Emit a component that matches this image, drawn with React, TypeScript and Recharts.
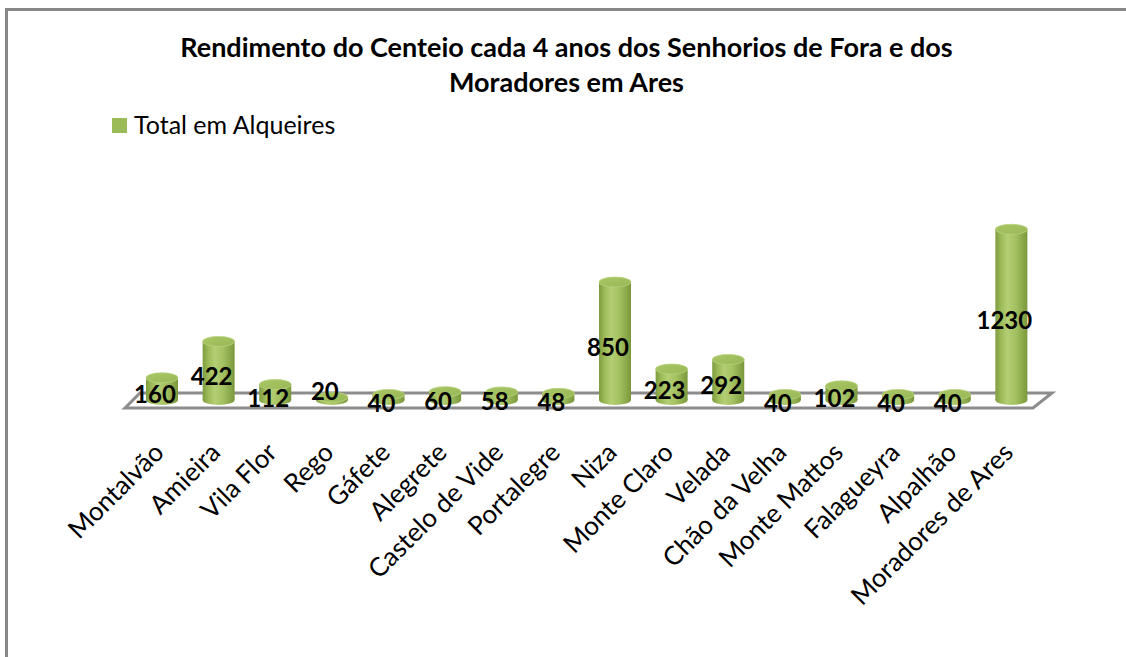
import { BarChart, Bar, XAxis, YAxis, LabelList } from 'recharts'

const CATEGORIES = [
  'Montalvão', 'Amieira', 'Vila Flor', 'Rego', 'Gáfete', 'Alegrete', 'Castelo de Vide', 'Portalegre',
  'Niza', 'Monte Claro', 'Velada', 'Chão da Velha', 'Monte Mattos', 'Falagueyra', 'Alpalhão', 'Moradores de Ares',
]
const VALUES = [160, 422, 112, 20, 40, 60, 58, 48, 850, 223, 292, 40, 102, 40, 40, 1230]
const SERIES_NAME = 'Total em Alqueires'
const TITLE_LINES = ['Rendimento do Centeio cada 4 anos dos Senhorios de Fora e dos', 'Moradores em Ares']

const data = CATEGORIES.map((name, i) => ({ name, value: VALUES[i] }))

const FONT = 'Lato, "Open Sans", sans-serif'
const GREEN = '#9bbb59'

function Cylinder(props: any) {
  const { x, y, width, height } = props
  const cx = x + width / 2
  const rx = width / 2
  const ry = 5
  const bottom = y + height
  return (
    <g>
      <ellipse cx={cx} cy={bottom} rx={rx} ry={ry} fill="url(#cylSide)" />
      <rect x={x} y={y} width={width} height={Math.max(height, 0)} fill="url(#cylSide)" />
      <ellipse cx={cx} cy={y} rx={rx} ry={ry} fill="url(#cylTop)" stroke="#b9d27f" strokeWidth={0.8} />
    </g>
  )
}

function ValueLabel(props: any) {
  const { x, y, width, height, value } = props
  // very flat bars get their label lifted a bit, as in the original
  const dy = height < 5 ? -8 : 5
  return (
    <text
      x={x + width / 2 - 7}
      y={y + height / 2 + dy}
      textAnchor="middle"
      dominantBaseline="central"
      fontFamily={FONT}
      fontWeight={700}
      fontSize={24}
      fill="#000"
    >
      {value}
    </text>
  )
}

function CategoryTick(props: any) {
  const { x, y, payload } = props
  const ax = x + 3
  const ay = y + 54
  return (
    <text
      x={ax}
      y={ay}
      transform={`rotate(-45, ${ax}, ${ay})`}
      textAnchor="end"
      fontFamily={FONT}
      fontSize={26}
      fill="#000"
    >
      {payload.value}
    </text>
  )
}

export default function App() {
  return (
    <div style={{ position: 'absolute', left: 0, top: 0, width: 1126, height: 657, overflow: 'hidden', background: '#fff' }}>
      {/* chart frame, cut by the picture on the right and bottom */}
      <div style={{ position: 'absolute', left: 5, top: 8, width: 1200, height: 760, border: '3px solid #878787' }} />

      {/* 3D floor */}
      <svg width={1126} height={657} style={{ position: 'absolute', left: 0, top: 0 }}>
        <polygon
          points="125,408 140,393 1052,393 1033,408"
          fill="#fff"
          stroke="#8c8c8c"
          strokeWidth={3}
          strokeLinejoin="miter"
        />
      </svg>

      <div style={{ position: 'absolute', left: 0, top: 0 }}>
        <BarChart
          width={1126}
          height={657}
          data={data}
          margin={{ top: 178, right: 86, bottom: 197, left: 134 }}
          barCategoryGap={0}
        >
          <defs>
            <linearGradient id="cylSide" x1="0" y1="0" x2="1" y2="0">
              <stop offset="0%" stopColor="#7f9c3f" />
              <stop offset="18%" stopColor="#9dbb58" />
              <stop offset="38%" stopColor="#b4ce74" />
              <stop offset="65%" stopColor="#a3c060" />
              <stop offset="100%" stopColor="#7a973b" />
            </linearGradient>
            <linearGradient id="cylTop" x1="0" y1="0" x2="1" y2="1">
              <stop offset="0%" stopColor="#aac766" />
              <stop offset="100%" stopColor="#98b755" />
            </linearGradient>
          </defs>
          <XAxis
            dataKey="name"
            interval={0}
            axisLine={false}
            tickLine={false}
            tickSize={0}
            tickMargin={0}
            height={60}
            tick={<CategoryTick />}
          />
          <YAxis hide domain={[0, 1600]} />
          <Bar dataKey="value" name={SERIES_NAME} fill={GREEN} barSize={32} shape={<Cylinder />} isAnimationActive={false}>
            <LabelList dataKey="value" content={<ValueLabel />} />
          </Bar>
        </BarChart>
      </div>

      {/* title */}
      <div
        style={{
          position: 'absolute',
          left: 0,
          top: 29,
          width: 1133,
          textAlign: 'center',
          fontFamily: FONT,
          fontWeight: 700,
          fontSize: 27,
          lineHeight: '35px',
          color: '#000',
        }}
      >
        {TITLE_LINES.map((t) => (
          <div key={t}>{t}</div>
        ))}
      </div>

      {/* legend */}
      <div
        style={{
          position: 'absolute',
          left: 112,
          top: 109,
          display: 'flex',
          alignItems: 'flex-start',
          fontFamily: FONT,
          fontSize: 25,
          lineHeight: '30px',
          color: '#000',
        }}
      >
        <div style={{ width: 15, height: 15, background: GREEN, marginTop: 9, marginRight: 7 }} />
        <span>{SERIES_NAME}</span>
      </div>
    </div>
  )
}
